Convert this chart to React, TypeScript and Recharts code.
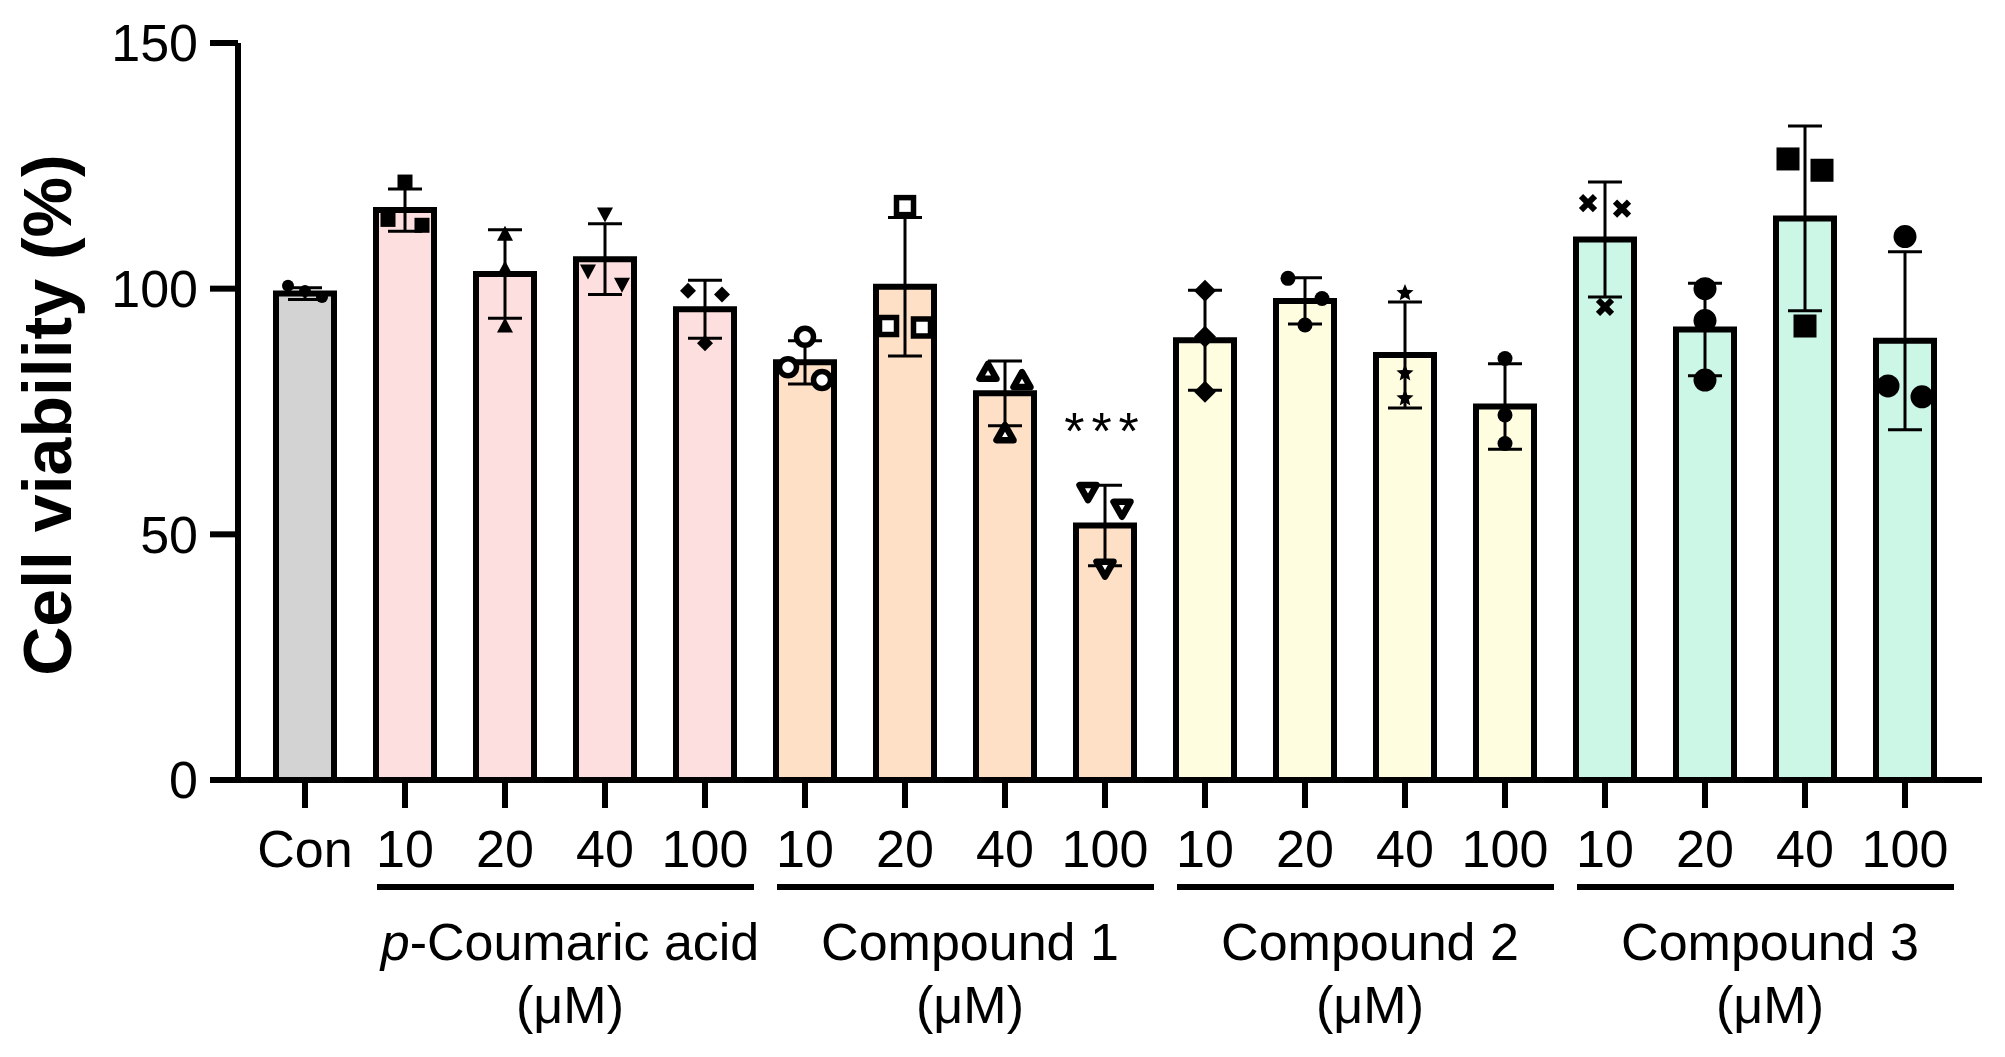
import React from 'react';
import { ComposedChart, Bar, Scatter, XAxis, YAxis, ErrorBar, Cell, LabelList } from 'recharts';

const categoryKeys = ['con', 'pca10', 'pca20', 'pca40', 'pca100', 'c1_10', 'c1_20', 'c1_40', 'c1_100', 'c2_10', 'c2_20', 'c2_40', 'c2_100', 'c3_10', 'c3_20', 'c3_40', 'c3_100'];
const tickLabels = ['Con', '10', '20', '40', '100', '10', '20', '40', '100', '10', '20', '40', '100', '10', '20', '40', '100'];
const groupOfCategory = ['con', 'pca', 'pca', 'pca', 'pca', 'c1', 'c1', 'c1', 'c1', 'c2', 'c2', 'c2', 'c2', 'c3', 'c3', 'c3', 'c3'];
const meanValues = [99, 116, 103, 106, 95.8, 85, 100.4, 78.7, 51.8, 89.5, 97.5, 86.5, 76, 110, 91.7, 114.3, 89.4];
const sdValues = [1.2, 4.3, 9, 7.2, 5.9, 4.4, 14.1, 6.6, 8.2, 10.2, 4.7, 10.8, 8.7, 11.7, 9.4, 18.8, 18.1];
const significance = ['', '', '', '', '', '', '', '', '***', '', '', '', '', '', '', '', ''];

const replicateValues = [
  [100.6, 99.5, 98.3],
  [121.7, 114.1, 112.9],
  [111.3, 104.2, 92.6],
  [115, 103.4, 100.7],
  [99.6, 98.8, 88.9],
  [90.2, 84, 81.4],
  [116.8, 92.4, 92.1],
  [83.4, 81.7, 70.9],
  [58.3, 54.9, 42.7],
  [99.6, 90.2, 79],
  [102.1, 98, 92.6],
  [99.1, 82.8, 77.7],
  [85.8, 74.3, 68.5],
  [117.4, 116.3, 96.3],
  [100, 93.5, 81.4],
  [126.4, 124.1, 92.4],
  [110.6, 80.2, 78],
];
// lane of each replicate within its bar: -1 left, 0 centre, 1 right
const replicateLanes = [
  [-1, 0, 1],
  [0, -1, 1],
  [0, 0, 0],
  [0, -1, 1],
  [-1, 1, 0],
  [0, -1, 1],
  [0, -1, 1],
  [-1, 1, 0],
  [-1, 1, 0],
  [0, 0, 0],
  [-1, 1, 0],
  [0, 0, 0],
  [0, 0, 0],
  [-1, 1, 0],
  [0, 0, 0],
  [-1, 1, 0],
  [0, -1, 1],
];
const markerShapes = ['smallDot', 'smallSquare', 'smallTriUp', 'smallTriDown', 'smallDiamond', 'openCircle', 'openSquare', 'openTriUp', 'openTriDown', 'diamond', 'dot', 'star', 'dot', 'cross', 'bigDot', 'bigSquare', 'bigDot'];

const groupNames = ['p-Coumaric acid', 'Compound 1', 'Compound 2', 'Compound 3'];
const groupFirstIndex = [1, 5, 9, 13];
const groupUnit = '(μM)';
const yTicks = [0, 50, 100, 150];

const groupColors: Record<string, string> = {
  con: '#d3d3d3',
  pca: '#fddfdf',
  c1: '#fde0c5',
  c2: '#fffde0',
  c3: '#ccf6e6',
};

const FONT = '"Liberation Sans", Arial, sans-serif';

const barData = categoryKeys.map((key, i) => ({
  key,
  mean: meanValues[i],
  sd: sdValues[i],
  sig: significance[i],
}));

const pointData = categoryKeys.flatMap((key, i) =>
  replicateValues[i].map((v, j) => ({
    key,
    value: v,
    lane: replicateLanes[i][j],
    marker: markerShapes[i],
  }))
);

const LANE_PX = 17;

const triPoints = (x: number, y: number, w: number, h: number, up: boolean) =>
  up
    ? `${x - w / 2},${y + h / 2} ${x + w / 2},${y + h / 2} ${x},${y - h / 2}`
    : `${x - w / 2},${y - h / 2} ${x + w / 2},${y - h / 2} ${x},${y + h / 2}`;

const starPoints = (x: number, y: number, r: number) => {
  const pts: string[] = [];
  for (let k = 0; k < 10; k++) {
    const rr = k % 2 === 0 ? r : r * 0.45;
    const a = -Math.PI / 2 + (k * Math.PI) / 5;
    pts.push(`${x + rr * Math.cos(a)},${y + rr * Math.sin(a)}`);
  }
  return pts.join(' ');
};

const renderMarker = (props: any) => {
  const { cx, cy, payload } = props;
  if (cx == null || cy == null) return <g />;
  const x = cx + (payload.lane || 0) * LANE_PX;
  const y = cy;
  switch (payload.marker) {
    case 'smallDot':
      return <circle cx={x} cy={y} r={6} fill="#000" />;
    case 'smallSquare':
      return <rect x={x - 7.5} y={y - 7.5} width={15} height={15} fill="#000" />;
    case 'smallTriUp':
      return <polygon points={triPoints(x, y, 16, 15, true)} fill="#000" />;
    case 'smallTriDown':
      return <polygon points={triPoints(x, y, 16, 15, false)} fill="#000" />;
    case 'smallDiamond':
      return <polygon points={`${x - 8},${y} ${x},${y - 8} ${x + 8},${y} ${x},${y + 8}`} fill="#000" />;
    case 'openCircle':
      return <circle cx={x} cy={y} r={8.5} fill="#fff" stroke="#000" strokeWidth={5.5} />;
    case 'openSquare':
      return <rect x={x - 8.5} y={y - 8.5} width={17} height={17} fill="#fff" stroke="#000" strokeWidth={5.5} />;
    case 'openTriUp':
      return <polygon points={triPoints(x, y + 1, 17, 15, true)} fill="#fff" stroke="#000" strokeWidth={6.5} strokeLinejoin="round" />;
    case 'openTriDown':
      return <polygon points={triPoints(x, y - 1, 17, 15, false)} fill="#fff" stroke="#000" strokeWidth={6.5} strokeLinejoin="round" />;
    case 'diamond':
      return <polygon points={`${x - 11},${y} ${x},${y - 11} ${x + 11},${y} ${x},${y + 11}`} fill="#000" />;
    case 'dot':
      return <circle cx={x} cy={y} r={7.5} fill="#000" />;
    case 'star':
      return <polygon points={starPoints(x, y, 9)} fill="#000" />;
    case 'cross':
      return (
        <g stroke="#000" strokeWidth={6}>
          <line x1={x - 7} y1={y - 7} x2={x + 7} y2={y + 7} />
          <line x1={x - 7} y1={y + 7} x2={x + 7} y2={y - 7} />
        </g>
      );
    case 'bigDot':
      return <circle cx={x} cy={y} r={11.5} fill="#000" />;
    case 'bigSquare':
      return <rect x={x - 11.5} y={y - 11.5} width={23} height={23} fill="#000" />;
    default:
      return <circle cx={x} cy={y} r={6} fill="#000" />;
  }
};

const XTick = (props: any) => {
  const { x, y, payload } = props;
  const i = categoryKeys.indexOf(payload.value);
  const step = payload && typeof payload.offset === 'number' && payload.offset > 0 ? payload.offset * 2 : 100;
  const g = groupFirstIndex.indexOf(i);
  const name = g >= 0 ? groupNames[g] : '';
  const mid = x + 1.5 * step + 15;
  return (
    <g>
      <text x={x} y={y + 59} textAnchor="middle" fontSize={52} fontFamily={FONT} fill="#000">
        {tickLabels[i]}
      </text>
      {g >= 0 && (
        <g>
          <line x1={x - 28} x2={x + 3 * step + 49} y1={y + 79} y2={y + 79} stroke="#000" strokeWidth={6} />
          <text x={mid} y={y + 152} textAnchor="middle" fontSize={52} fontFamily={FONT} fill="#000">
            {name.startsWith('p-') ? (
              <>
                <tspan fontStyle="italic">p</tspan>
                <tspan>{name.slice(1)}</tspan>
              </>
            ) : (
              name
            )}
          </text>
          <text x={mid} y={y + 215} textAnchor="middle" fontSize={52} fontFamily={FONT} fill="#000">
            {groupUnit}
          </text>
        </g>
      )}
    </g>
  );
};

const renderSig = (props: any) => {
  const { x, y, width, value } = props;
  if (!value) return null;
  return (
    <text x={x + width / 2} y={y - 76} textAnchor="middle" fontSize={52} fontFamily={FONT} fill="#000" letterSpacing={7}>
      {value}
    </text>
  );
};

const renderYTitle = () => (
  <text
    transform="translate(71, 415) rotate(-90)"
    textAnchor="middle"
    fontSize={68}
    fontWeight="bold"
    fontFamily={FONT}
    fill="#000"
  >
    Cell viability (%)
  </text>
);

export default function App() {
  return (
    <div style={{ position: 'absolute', left: 0, top: 0, width: 2005, height: 1057, background: '#fff' }}>
      <ComposedChart
        width={2005}
        height={1057}
        data={barData}
        margin={{ top: 43, right: 23, bottom: 0, left: 0 }}
        barCategoryGap={0}
      >
        <XAxis
          dataKey="key"
          type="category"
          allowDuplicatedCategory={false}
          height={277}
          padding={{ left: 17, right: 27 }}
          axisLine={{ stroke: '#000', strokeWidth: 6 }}
          tickLine={{ stroke: '#000', strokeWidth: 6 }}
          tickSize={28}
          tickMargin={0}
          interval={0}
          tick={<XTick />}
        />
        <YAxis
          type="number"
          domain={[0, 150]}
          ticks={yTicks}
          width={238}
          axisLine={{ stroke: '#000', strokeWidth: 6 }}
          tickLine={{ stroke: '#000', strokeWidth: 6 }}
          tickSize={28}
          tickMargin={12}
          tick={{ fontSize: 52, fontFamily: FONT, fill: '#000' }}
          label={renderYTitle}
        />
        <Bar dataKey="mean" barSize={58} stroke="#000" strokeWidth={6} isAnimationActive={false}>
          {barData.map((d, i) => (
            <Cell key={d.key} fill={groupColors[groupOfCategory[i]]} />
          ))}
          <ErrorBar dataKey="sd" width={17} strokeWidth={3} stroke="#000" direction="y" />
          <LabelList dataKey="sig" content={renderSig} />
        </Bar>
        <Scatter data={pointData} dataKey="value" shape={renderMarker} isAnimationActive={false} />
      </ComposedChart>
    </div>
  );
}
